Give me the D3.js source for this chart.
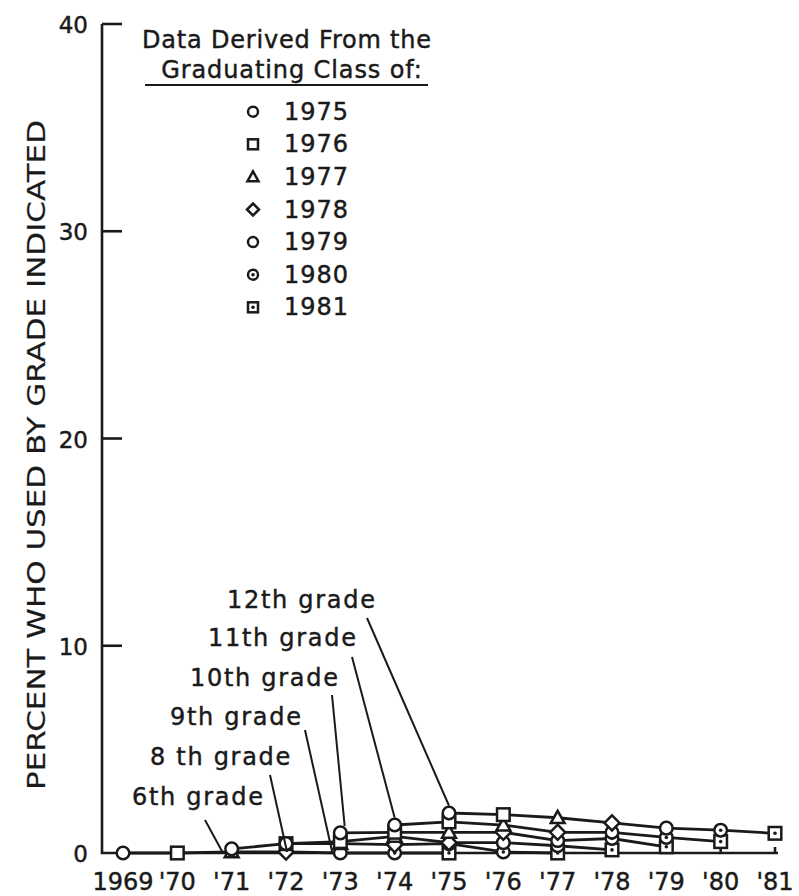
<!DOCTYPE html>
<html>
<head>
<meta charset="utf-8">
<script src="https://cdn.jsdelivr.net/npm/d3@7"></script>
<style>
  body { margin: 0; background: #fff; }
  text { font-family: "DejaVu Sans", sans-serif; fill: #1a1a1a; stroke: #1a1a1a; stroke-width: 0.45px; }
</style>
</head>
<body>
<svg id="chart"></svg>
<script>
// chart size
const width = 799;
const height = 896;

// data (percent), one array per grade, index = graduating class 1975..1981
const classes = [1975, 1976, 1977, 1978, 1979, 1980, 1981];
const yearTicks = [1969, 1970, 1971, 1972, 1973, 1974, 1975, 1976, 1977, 1978, 1979, 1980, 1981];
const yearLabels = ["1969", "'70", "'71", "'72", "'73", "'74", "'75", "'76", "'77", "'78", "'79", "'80", "'81"];
const yTicks = [0, 10, 20, 30, 40];

const grades = [6, 8, 9, 10, 11, 12];
const gradeNames = ["6th grade", "8 th grade", "9th grade", "10th grade", "11th grade", "12th grade"];
const grade6 = [0.0, 0.0, 0.05, 0.05, 0.0, 0.0, 0.0];
const grade8 = [0.2, 0.45, 0.45, 0.4, 0.45, 0.05, 0.0];
const grade9 = [0.45, 0.55, 0.8, 0.5, 0.5, 0.35, 0.15];
const grade10 = [0.97, 1.0, 1.0, 1.0, 0.6, 0.7, 0.3];
const grade11 = [1.35, 1.5, 1.35, 1.0, 1.0, 0.75, 0.55];
const grade12 = [1.93, 1.85, 1.7, 1.45, 1.2, 1.1, 0.95];
const gradeValues = [grade6, grade8, grade9, grade10, grade11, grade12];

// marker shape per graduating class
const classSymbols = ["circle", "square", "triangle", "diamond", "circle", "circledot", "squaredot"];

const svg = d3.select('#chart').attr('width', width).attr('height', height);

const x = d3.scaleLinear().domain([1969, 1981]).range([123, 775]);
const y = d3.scaleLinear().domain([0, 40]).range([853, 24]);
const axisX = 102;

// build series: year for grade g of class c is c - (12 - g)
const series = grades.map((g, gi) => gradeValues[gi].map((v, ci) => ({
    year: classes[ci] - (12 - g),
    value: v,
    cls: ci
})));

// ---- axes ----
const axis = svg.append('g').attr('stroke', '#1a1a1a').attr('stroke-width', 2.6).attr('fill', 'none');
axis.append('path')
    .attr('d', `M${axisX},${y(40)}V${y(0)}H${x(1981) + 3}`);
axis.selectAll('.ytick')
    .data(yTicks.filter(d => d > 0))
    .enter().append('line')
    .attr('x1', axisX).attr('x2', axisX + 20)
    .attr('y1', d => y(d)).attr('y2', d => y(d));
axis.selectAll('.xtick')
    .data(yearTicks)
    .enter().append('line')
    .attr('x1', d => x(d)).attr('x2', d => x(d))
    .attr('y1', y(0)).attr('y2', y(0) - 6);

svg.selectAll('.ylab')
    .data(yTicks)
    .enter().append('text')
    .attr('x', axisX - 14)
    .attr('y', d => y(d) + 1)
    .attr('text-anchor', 'end')
    .attr('dominant-baseline', 'central')
    .attr('font-size', 23)
    .text(d => d);

svg.selectAll('.xlab')
    .data(yearTicks)
    .enter().append('text')
    .attr('x', d => x(d))
    .attr('y', 882)
    .attr('text-anchor', 'middle')
    .attr('dominant-baseline', 'central')
    .attr('font-size', 24)
    .text((d, i) => yearLabels[i]);

svg.append('text')
    .attr('transform', 'translate(36,455) rotate(-90)')
    .attr('text-anchor', 'middle')
    .attr('dominant-baseline', 'central')
    .attr('font-family', '"DejaVu Sans Condensed", "DejaVu Sans", sans-serif')
    .attr('font-size', 25)
    .attr('textLength', 670)
    .attr('lengthAdjust', 'spacingAndGlyphs')
    .style('stroke-width', '0.2px')
    .text('PERCENT WHO USED BY GRADE INDICATED');

// ---- grade lines ----
const line = d3.line().x(d => x(d.year)).y(d => y(d.value));
svg.append('g')
    .selectAll('path')
    .data(series)
    .enter().append('path')
    .attr('d', line)
    .attr('fill', 'none')
    .attr('stroke', '#1a1a1a')
    .attr('stroke-width', 2.8);

// ---- markers ----
function drawSymbol(g, kind, r) {
    const st = { stroke: '#1a1a1a', 'stroke-width': 2.5, fill: '#fff' };
    let el;
    if (kind === 'circle' || kind === 'circledot') {
        el = g.append('circle').attr('r', r);
    } else if (kind === 'square' || kind === 'squaredot') {
        el = g.append('rect').attr('x', -r).attr('y', -r).attr('width', 2 * r).attr('height', 2 * r);
    } else if (kind === 'triangle') {
        el = g.append('path').attr('d', `M0,${-r * 1.1}L${r * 1.1},${r * 0.85}L${-r * 1.1},${r * 0.85}Z`);
    } else if (kind === 'diamond') {
        el = g.append('path').attr('d', `M0,${-r * 1.2}L${r * 1.2},0L0,${r * 1.2}L${-r * 1.2},0Z`);
    }
    Object.entries(st).forEach(([k, v]) => el.attr(k, v));
    if (kind.endsWith('dot')) {
        g.append('circle').attr('r', 1.8).attr('fill', '#1a1a1a');
    }
}

const pts = series.flat();
svg.append('g')
    .selectAll('g')
    .data(pts)
    .enter().append('g')
    .attr('transform', d => `translate(${x(d.year)},${y(d.value)})`)
    .each(function(d) { drawSymbol(d3.select(this), classSymbols[d.cls], 6.3); });

// ---- grade labels with leader lines ----
const labelX = [132, 150, 170, 190, 208, 227];
const labelY = [797, 757, 717, 678, 638, 600];
const leadFrom = [[205, 820], [270, 775], [305, 730], [332, 695], [352, 657], [367, 618]];
const leadTo = [[1970.84, 0.0], [1972.02, 0.05], [1972.85, 0.05], [1973.08, 1.3], [1974.0, 1.7], [1975.0, 2.28]];

svg.selectAll('.glab')
    .data(gradeNames)
    .enter().append('text')
    .attr('x', (d, i) => labelX[i])
    .attr('y', (d, i) => labelY[i])
    .attr('dominant-baseline', 'central')
    .attr('font-size', 24)
    .attr('letter-spacing', 1.7)
    .text(d => d);

svg.selectAll('.lead')
    .data(leadFrom)
    .enter().append('line')
    .attr('x1', d => d[0]).attr('y1', d => d[1])
    .attr('x2', (d, i) => x(leadTo[i][0])).attr('y2', (d, i) => y(leadTo[i][1]))
    .attr('stroke', '#1a1a1a')
    .attr('stroke-width', 2);

// ---- legend ----
const legend = svg.append('g');
legend.append('text').attr('x', 287).attr('y', 40).attr('text-anchor', 'middle')
    .attr('dominant-baseline', 'central').attr('font-size', 24).attr('letter-spacing', 0.8)
    .text('Data Derived From the');
legend.append('text').attr('x', 292).attr('y', 70).attr('text-anchor', 'middle')
    .attr('dominant-baseline', 'central').attr('font-size', 24).attr('letter-spacing', 0.9)
    .text('Graduating Class of:');
legend.append('line').attr('x1', 145).attr('x2', 428).attr('y1', 85).attr('y2', 85)
    .attr('stroke', '#1a1a1a').attr('stroke-width', 2);

const rows = legend.selectAll('.row')
    .data(classes)
    .enter().append('g')
    .attr('transform', (d, i) => `translate(0,${111.7 + i * 32.6})`);
rows.append('g')
    .attr('transform', 'translate(253,0)')
    .each(function(d, i) { drawSymbol(d3.select(this), classSymbols[i], 5); });
rows.append('text')
    .attr('x', 284)
    .attr('dominant-baseline', 'central')
    .attr('font-size', 24)
    .attr('letter-spacing', 1)
    .text(d => d);
</script>
</body>
</html>
